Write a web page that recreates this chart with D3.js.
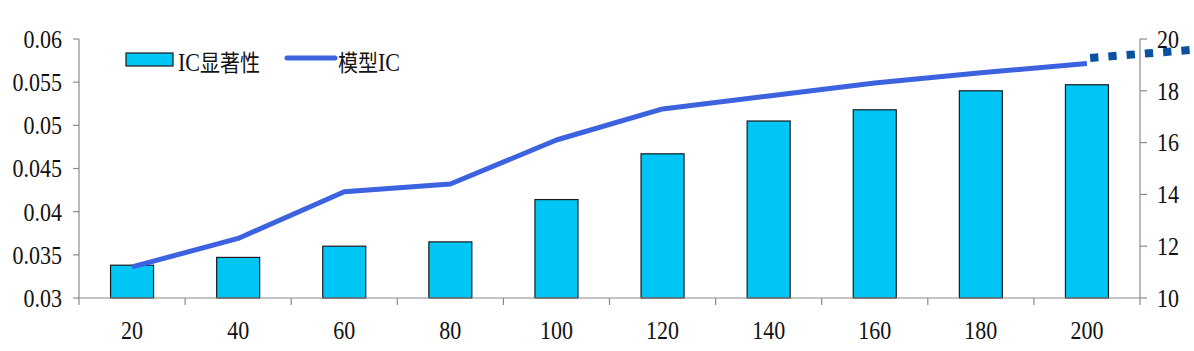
<!DOCTYPE html>
<html><head><meta charset="utf-8">
<script src="https://cdn.jsdelivr.net/npm/d3@7"></script>
<style>
html,body{margin:0;padding:0;background:#fff;}
svg{display:block;}
text{font-family:"Liberation Serif","Times New Roman",serif;fill:#111;}
</style></head><body>
<svg id="c" width="1194" height="351"></svg>
<script>
const categories = ["20","40","60","80","100","120","140","160","180","200"];
const icSignificance = [0.0338,0.0347,0.0360,0.0365,0.0414,0.0467,0.0505,0.0518,0.0540,0.0547];
const modelIC = [11.2,12.3,14.1,14.4,16.1,17.3,17.8,18.3,18.7,19.05];
const leftTicks = [0.03,0.035,0.04,0.045,0.05,0.055,0.06];
const leftLabels = ["0.03","0.035","0.04","0.045","0.05","0.055","0.06"];
const rightTicks = [10,12,14,16,18,20];
const extensionIdx = [9.03,10.05];
const extensionVals = [19.27,19.6];

const svg = d3.select("#c");
const L = 79, R = 1140, T = 39, B = 298;
const axisColor = "#8a8a8a";
const SY = 1.15;

const xb = d3.scaleBand().domain(categories).range([L,R]);
const xi = d3.scaleLinear().domain([0,1]).range([L+xb.step()/2, L+xb.step()*1.5]);
const yL = d3.scaleLinear().domain([0.03,0.06]).range([B,T]);
const yR = d3.scaleLinear().domain([10,20]).range([B,T]);

// bars
svg.append("g").selectAll("rect").data(icSignificance).join("rect")
  .attr("x",(d,i)=>xb(categories[i])+xb.bandwidth()/2-21.5)
  .attr("width",43)
  .attr("y",d=>yL(d)).attr("height",d=>B-yL(d))
  .attr("fill","#00c6f5").attr("stroke","#1a1a1a").attr("stroke-width",1.2);

// axes
const ax = svg.append("g").attr("stroke",axisColor).attr("stroke-width",1.2);
ax.append("line").attr("x1",L).attr("x2",L).attr("y1",T).attr("y2",B);
ax.append("line").attr("x1",R).attr("x2",R).attr("y1",T).attr("y2",B);
ax.append("line").attr("x1",L).attr("x2",R).attr("y1",B).attr("y2",B);
leftTicks.forEach(t=>ax.append("line").attr("x1",L-6).attr("x2",L).attr("y1",yL(t)).attr("y2",yL(t)));
rightTicks.forEach(t=>ax.append("line").attr("x1",R).attr("x2",R+7).attr("y1",yR(t)).attr("y2",yR(t)));
d3.range(categories.length+1).forEach(i=>ax.append("line").attr("x1",L+i*xb.step()).attr("x2",L+i*xb.step()).attr("y1",B).attr("y2",B+7));

function label(g, tx, ty, anchor, txt){
  g.append("text").attr("transform",`translate(${tx},${ty}) scale(1,${SY})`)
    .attr("dy","0.35em").attr("text-anchor",anchor).attr("font-size",22).text(txt);
}
const gl = svg.append("g");
leftTicks.forEach((t,i)=>label(gl,62,yL(t),"end",leftLabels[i]));
rightTicks.forEach(t=>label(gl,1157,yR(t),"start",String(t)));
categories.forEach(c=>label(gl,xb(c)+xb.bandwidth()/2,330,"middle",c));

// line
const line = d3.line().x((d,i)=>xb(categories[i])+xb.bandwidth()/2).y(d=>yR(d));
svg.append("path").datum(modelIC).attr("d",line).attr("fill","none")
  .attr("stroke","#3d62e0").attr("stroke-width",5).attr("stroke-linejoin","round");

// dotted extension
const ext = d3.line().x(d=>xi(d[0])).y(d=>yR(d[1]));
svg.append("path").datum(extensionIdx.map((d,i)=>[d,extensionVals[i]]))
  .attr("d",ext).attr("fill","none").attr("stroke","#0a52a0").attr("stroke-width",8)
  .attr("stroke-dasharray","8.3,10");

// legend
const lg = svg.append("g");
lg.append("rect").attr("x",126).attr("y",53).attr("width",47).attr("height",13)
  .attr("fill","#00c6f5").attr("stroke","#1a1a1a").attr("stroke-width",1.2);
const t1 = lg.append("text").attr("transform",`translate(178,62) scale(1,${SY})`).attr("dy","0.35em").attr("font-size",22);
t1.append("tspan").text("IC");
t1.append("tspan").style("font-family","'Noto Sans CJK SC'").attr("font-size",20).text("显著性");
lg.append("line").attr("x1",287).attr("x2",335).attr("y1",58).attr("y2",58)
  .attr("stroke","#3d62e0").attr("stroke-width",5).attr("stroke-linecap","round");
const t2 = lg.append("text").attr("transform",`translate(338,62) scale(1,${SY})`).attr("dy","0.35em").attr("font-size",22);
t2.append("tspan").style("font-family","'Noto Sans CJK SC'").attr("font-size",20).text("模型");
t2.append("tspan").text("IC");
</script>
</body></html>
